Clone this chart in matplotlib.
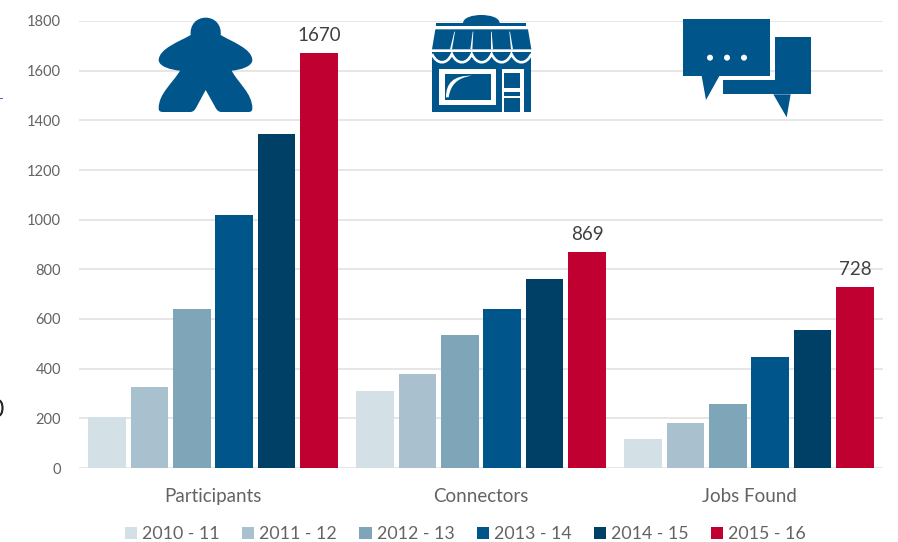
import matplotlib
matplotlib.use("Agg")
import matplotlib.pyplot as plt
import numpy as np
from matplotlib.path import Path
from matplotlib.patches import PathPatch, Rectangle, Polygon, Circle, Ellipse

plt.rcParams["font.family"] = ["Lato", "DejaVu Sans"]

categories = ["Participants", "Connectors", "Jobs Found"]
years = ["2010 - 11", "2011 - 12", "2012 - 13", "2013 - 14", "2014 - 15", "2015 - 16"]
colors = ["#d3e0e6", "#a9c1cf", "#7fa6b8", "#00558b", "#003f66", "#c00030"]
v2010 = [205, 310, 118]
v2011 = [325, 380, 180]
v2012 = [640, 537, 257]
v2013 = [1020, 640, 448]
v2014 = [1343, 763, 556]
v2015 = [1670, 869, 728]
series = [v2010, v2011, v2012, v2013, v2014, v2015]
yticks = [0, 200, 400, 600, 800, 1000, 1200, 1400, 1600, 1800]

ICON = "#00558b"
TEXT = "#636363"

fig = plt.figure(figsize=(8.98, 5.42), dpi=100)
ax = fig.add_axes([79 / 898, (542 - 468) / 542, 804 / 898, 447 / 542])

x = np.arange(len(categories))
step = 42.4 / 268
width = 37.5 / 268
for i, (vals, col, yr) in enumerate(zip(series, colors, years)):
    ax.bar(x + (i - 2.5) * step, vals, width, color=col, label=yr, zorder=3)

for xi, v in zip(x, v2015):
    ax.text(xi + 2.5 * step, v + 36, str(v), ha="center", va="bottom",
            fontsize=13.5, color="#404040", zorder=5)

ax.set_xlim(-0.5, 2.5)
ax.set_ylim(0, 1800)
ax.set_yticks(yticks)
ax.set_xticks(x)
ax.set_xticklabels(categories)
ax.tick_params(axis="both", length=0, colors=TEXT)
ax.tick_params(axis="y", labelsize=10.5, pad=13)
ax.tick_params(axis="x", labelsize=13.5, pad=14.3)
ax.grid(axis="y", color="#e2e2e2", linewidth=1.2, zorder=0)
ax.set_axisbelow(True)
for s in ax.spines.values():
    s.set_visible(False)

fig.legend(loc="lower left", bbox_to_anchor=(109 / 898, -16 / 542), ncol=6, frameon=False,
           fontsize=12.8, labelcolor=TEXT, handlelength=0.68, handleheight=0.68,
           handletextpad=0.28, columnspacing=1.265)

# icons and stray bits, drawn in pixel space on top of the chart
ov = fig.add_axes([0, 0, 1, 1], zorder=10)
ov.set_xlim(0, 898)
ov.set_ylim(542, 0)
ov.axis("off")
ov.patch.set_alpha(0)


def shape(x0, y0, verts, codes, color=ICON):
    pts = [(x0 + a / 3, y0 + b / 3) for a, b in verts]
    ov.add_patch(PathPatch(Path(pts, codes), facecolor=color, edgecolor="none"))


def rect(x0, y0, a, b, c, d, color=ICON):
    ov.add_patch(Rectangle((x0 + a / 3, y0 + b / 3), (c - a) / 3, (d - b) / 3,
                           facecolor=color, edgecolor="none"))


def poly(x0, y0, pts, color=ICON):
    ov.add_patch(Polygon([(x0 + a / 3, y0 + b / 3) for a, b in pts],
                         facecolor=color, edgecolor="none"))


M, L, C, Z = Path.MOVETO, Path.LINETO, Path.CURVE4, Path.CLOSEPOLY

# meeple
verts = [(167, 23),
         (195, 23), (215, 45), (212, 75),
         (245, 95), (305, 115), (307, 150),
         (307, 170), (270, 180), (245, 182),
         (265, 220), (307, 250), (307, 295),
         (307, 303), (303, 306), (295, 306),
         (215, 306),
         (205, 306), (200, 300), (195, 290),
         (167, 240),
         (140, 290),
         (135, 300), (130, 306), (120, 306),
         (40, 306),
         (30, 306), (26, 303), (26, 295),
         (26, 250), (68, 220), (90, 182),
         (65, 180), (26, 170), (26, 150),
         (28, 115), (88, 95), (122, 75),
         (119, 45), (139, 23), (167, 23),
         (167, 23)]
codes = [M] + [C] * 15 + [L] + [C] * 3 + [L, L] + [C] * 3 + [L] + [C] * 15 + [Z]
shape(150, 10, verts, codes)

# shop
sx, sy = 428, 10
shape(sx, sy, [(105, 40), (105, 22), (135, 15), (160, 15), (185, 15), (215, 22), (215, 40), (105, 40)],
      [M, C, C, C, C, C, C, Z])
rect(sx, sy, 25, 38, 295, 47)
poly(sx, sy, [(22, 58), (300, 58), (310, 118), (12, 118)])
for top, bot in [(80, 69), (135, 130), (190, 192), (245, 252)]:
    poly(sx, sy, [(top - 1, 65), (top + 1, 65), (bot + 3, 118), (bot - 3, 118)], "white")
rect(sx, sy, 12, 125, 310, 305)
wave = [(12, 132)]
wcodes = [M]
for k in range(5):
    a = 12 + k * 59.6
    wave += [(a + 15, 165), (a + 45, 165), (a + 59.6, 132)]
    wcodes += [C, C, C]
ov.add_patch(PathPatch(Path([(sx + a / 3, sy + b / 3) for a, b in wave], wcodes),
                       facecolor="none", edgecolor="white", linewidth=1.9))
rect(sx, sy, 33, 178, 205, 285, "white")
rect(sx, sy, 50, 192, 190, 270)
shape(sx, sy, [(54, 262), (54, 220), (75, 196), (132, 197), (90, 203), (68, 222), (62, 262), (54, 262)],
      [M, C, C, C, C, C, C, Z], "white")
rect(sx, sy, 222, 178, 288, 305, "white")
rect(sx, sy, 227, 188, 276, 235)
rect(sx, sy, 227, 245, 276, 257)
rect(sx, sy, 227, 265, 276, 305)

# chat bubbles
ox = 400
rect(ox, 0, 1126, 112, 1232, 283)
rect(ox, 0, 968, 240, 1130, 283)
poly(ox, 0, [(1120, 283), (1160, 352), (1172, 283)])
rect(ox, 0, 848, 58, 1110, 228)
poly(ox, 0, [(905, 228), (918, 300), (958, 228)])
for cx in (930, 981, 1032):
    ov.add_patch(Circle((ox + cx / 3, 173 / 3), 9 / 3, facecolor="white", edgecolor="none"))

# cropped remains at the left edge of the screenshot
rect(0, 0, 0, 294, 8, 298, "#4472c4")
ov.add_patch(Ellipse((-1, 408), 7, 15, facecolor="none", edgecolor="#222222", linewidth=1.5))

fig.savefig("out.png", dpi=100)
